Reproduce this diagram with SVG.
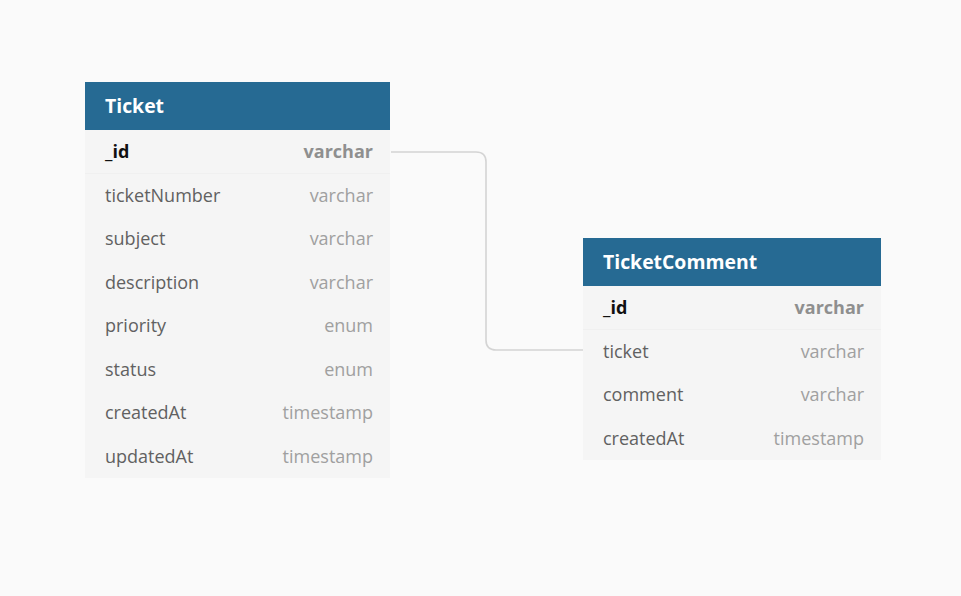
<svg xmlns="http://www.w3.org/2000/svg" width="961" height="596" viewBox="0 0 961 596">
<style>
.bg{fill:#fafafa}
.hdr{fill:#266a93}
.body{fill:#f5f5f5}
.title{font-family:"Open Sans",sans-serif;font-size:19.4px;font-weight:bold;fill:#ffffff}
.name{font-family:"Open Sans",sans-serif;font-size:18px;fill:#616161}
.type{font-family:"Open Sans",sans-serif;font-size:18px;fill:#a0a0a0;text-anchor:end}
.pk{font-weight:bold;fill:#111111}
.pkt{font-weight:bold;fill:#8f8f8f}
.sep{stroke:#f0f0f0;stroke-width:1}
.conn{fill:none;stroke:#d4d4d4;stroke-width:1.6}
</style>
<rect class="bg" x="0" y="0" width="961" height="596"/>
<g id="connectors">
<path class="conn" d="M391 152 H476 Q486 152 486 162 V340 Q486 350 496 350 H583"/>
</g>
<g id="Ticket">
<rect class="body" x="85" y="130" width="305" height="348"/>
<rect class="hdr" x="85" y="82" width="305" height="48"/>
<text class="title" x="105" y="112.5">Ticket</text>
<line class="sep" x1="85" y1="173.5" x2="390" y2="173.5"/>
<text class="name pk" x="105" y="158">_id</text><text class="type pkt" x="373" y="158">varchar</text>
<text class="name" x="105" y="201.5">ticketNumber</text><text class="type" x="373" y="201.5">varchar</text>
<text class="name" x="105" y="245">subject</text><text class="type" x="373" y="245">varchar</text>
<text class="name" x="105" y="288.5">description</text><text class="type" x="373" y="288.5">varchar</text>
<text class="name" x="105" y="332">priority</text><text class="type" x="373" y="332">enum</text>
<text class="name" x="105" y="375.5">status</text><text class="type" x="373" y="375.5">enum</text>
<text class="name" x="105" y="419">createdAt</text><text class="type" x="373" y="419">timestamp</text>
<text class="name" x="105" y="462.5">updatedAt</text><text class="type" x="373" y="462.5">timestamp</text>
</g>
<g id="TicketComment">
<rect class="body" x="583" y="286" width="298" height="174"/>
<rect class="hdr" x="583" y="238" width="298" height="48"/>
<text class="title" x="603" y="268.5">TicketComment</text>
<line class="sep" x1="583" y1="329.5" x2="881" y2="329.5"/>
<text class="name pk" x="603" y="314">_id</text><text class="type pkt" x="864" y="314">varchar</text>
<text class="name" x="603" y="357.5">ticket</text><text class="type" x="864" y="357.5">varchar</text>
<text class="name" x="603" y="401">comment</text><text class="type" x="864" y="401">varchar</text>
<text class="name" x="603" y="444.5">createdAt</text><text class="type" x="864" y="444.5">timestamp</text>
</g>
</svg>
